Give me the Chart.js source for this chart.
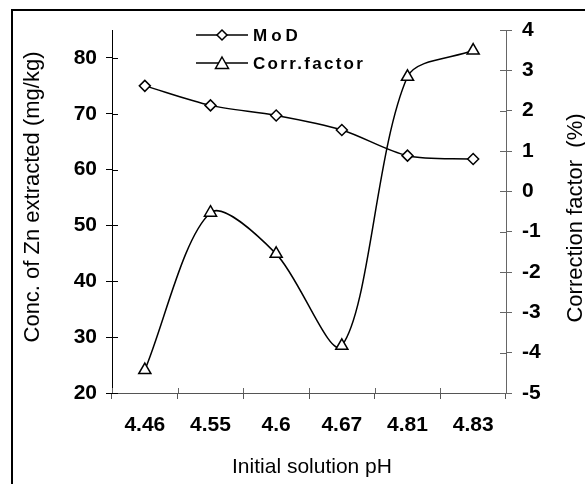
<!DOCTYPE html>
<html>
<head>
<title>MoD vs Correction factor</title>
<script src="https://cdn.jsdelivr.net/npm/chart.js"></script>
<style>
    html, body { margin: 0; padding: 0; background: #fff; }
    #wrap { width: 585px; height: 484px; position: relative; }
</style>
</head>
<body>
<div id="wrap"><canvas id="chart" width="585" height="484"></canvas></div>
<script>
// data
const categories = ['4.46', '4.55', '4.6', '4.67', '4.81', '4.83'];
const modValues = [75, 71.5, 69.7, 67.1, 62.5, 61.9];
const corrValues = [-4.43, -0.53, -1.55, -3.83, 2.84, 3.49];
const leftTicks = [20, 30, 40, 50, 60, 70, 80];
const rightTicks = [-5, -4, -3, -2, -1, 0, 1, 2, 3, 4];

const FONT = '"Liberation Sans", Arial, sans-serif';

// frame, inner tick halves, rotated titles and the legend
const decor = {
    id: 'decor',
    afterDraw(chart) {
        const ctx = chart.ctx;
        const x = chart.scales.x, yL = chart.scales.y, yR = chart.scales.y1;
        ctx.save();

        // outer frame (cut off at right and bottom)
        ctx.strokeStyle = '#000';
        ctx.lineWidth = 2;
        ctx.beginPath();
        ctx.moveTo(12, 484);
        ctx.lineTo(12, 10);
        ctx.lineTo(585, 10);
        ctx.stroke();

        // tick marks also cross into the plot
        ctx.lineWidth = 1;
        ctx.strokeStyle = '#000';
        ctx.beginPath();
        yL.ticks.forEach((t, i) => {
            const p = Math.round(yL.getPixelForTick(i)) + 0.5;
            ctx.moveTo(yL.right, p);
            ctx.lineTo(yL.right + 6, p);
        });
        ctx.stroke();
        ctx.strokeStyle = '#666';
        ctx.beginPath();
        yR.ticks.forEach((t, i) => {
            const p = Math.round(yR.getPixelForTick(i)) + 0.5;
            ctx.moveTo(yR.left - 6, p);
            ctx.lineTo(yR.left, p);
        });
        for (let i = 0; i <= categories.length; i++) {
            const p = Math.round(x.getPixelForValue(i - 0.5)) + 0.5;
            ctx.moveTo(p, x.top - 5);
            ctx.lineTo(p, x.top);
        }
        ctx.stroke();

        // axis titles
        ctx.fillStyle = '#000';
        ctx.textAlign = 'center';
        ctx.textBaseline = 'alphabetic';
        ctx.font = '21px ' + FONT;
        ctx.fillText('Initial solution pH', 312, 473);

        ctx.font = '22px ' + FONT;
        ctx.save();
        ctx.translate(39, 197);
        ctx.rotate(-Math.PI / 2);
        ctx.fillText('Conc. of Zn extracted (mg/kg)', 0, 0);
        ctx.restore();

        ctx.save();
        ctx.translate(582, 218);
        ctx.rotate(-Math.PI / 2);
        ctx.fillText('Correction factor  (%)', 0, 0);
        ctx.restore();

        // legend
        const rows = [
            { label: 'MoD', y: 35, shape: 'diamond', spacing: '4px' },
            { label: 'Corr.factor', y: 63, shape: 'triangle', spacing: '2.3px' }
        ];
        rows.forEach(r => {
            ctx.strokeStyle = '#000';
            ctx.lineWidth = 1.5;
            ctx.beginPath();
            ctx.moveTo(196, r.y);
            ctx.lineTo(248, r.y);
            ctx.stroke();
            ctx.fillStyle = '#fff';
            ctx.beginPath();
            if (r.shape === 'diamond') {
                ctx.moveTo(222, r.y - 5);
                ctx.lineTo(227, r.y);
                ctx.lineTo(222, r.y + 5);
                ctx.lineTo(217, r.y);
            } else {
                ctx.moveTo(222, r.y - 6);
                ctx.lineTo(228.5, r.y + 5.5);
                ctx.lineTo(215.5, r.y + 5.5);
            }
            ctx.closePath();
            ctx.fill();
            ctx.stroke();
            ctx.fillStyle = '#000';
            ctx.font = 'bold 17px ' + FONT;
            ctx.textAlign = 'left';
            ctx.letterSpacing = r.spacing;
            ctx.fillText(r.label, 253, r.y + 6);
            ctx.letterSpacing = '0px';
        });

        ctx.restore();
    }
};

const tickFont = { family: FONT, size: 21, weight: 'bold' };

new Chart(document.getElementById('chart'), {
    type: 'line',
    data: {
        labels: categories,
        datasets: [{
            label: 'MoD',
            data: modValues,
            yAxisID: 'y',
            borderColor: '#000',
            borderWidth: 1.5,
            tension: 0.3,
            pointStyle: 'rectRot',
            pointRadius: 5.5,
            pointBorderWidth: 1.5,
            pointBackgroundColor: '#fff',
            pointBorderColor: '#000'
        }, {
            label: 'Corr.factor',
            data: corrValues,
            yAxisID: 'y1',
            borderColor: '#000',
            borderWidth: 1.5,
            tension: 0.3,
            pointStyle: 'triangle',
            pointRadius: 7,
            pointBorderWidth: 1.5,
            pointBackgroundColor: '#fff',
            pointBorderColor: '#000'
        }]
    },
    options: {
        responsive: false,
        animation: false,
        layout: { padding: { top: 30, left: 0, right: 0, bottom: 0 } },
        plugins: {
            legend: { display: false },
            tooltip: { enabled: false }
        },
        scales: {
            x: {
                offset: true,
                grid: { offset: true, drawOnChartArea: false, tickLength: 6, color: '#555' },
                border: { color: '#555', width: 1 },
                ticks: { color: '#000', font: tickFont, padding: 14, maxRotation: 0 },
                afterFit: s => { s.height = 91; }
            },
            y: {
                position: 'left',
                min: 20,
                max: 85,
                afterBuildTicks: s => { s.ticks = leftTicks.map(v => ({ value: v })); },
                grid: { drawOnChartArea: false, tickLength: 6, color: '#000' },
                border: { color: '#000', width: 1 },
                ticks: { color: '#000', font: tickFont, padding: 9 },
                afterFit: s => { s.width = 112; }
            },
            y1: {
                position: 'right',
                min: -5,
                max: 4,
                afterBuildTicks: s => { s.ticks = rightTicks.map(v => ({ value: v })); },
                grid: { drawOnChartArea: false, tickLength: 6, color: '#666' },
                border: { color: '#666', width: 1 },
                ticks: { color: '#000', font: tickFont, padding: 10 },
                afterFit: s => { s.width = 79; }
            }
        }
    },
    plugins: [decor]
});
</script>
</body>
</html>
